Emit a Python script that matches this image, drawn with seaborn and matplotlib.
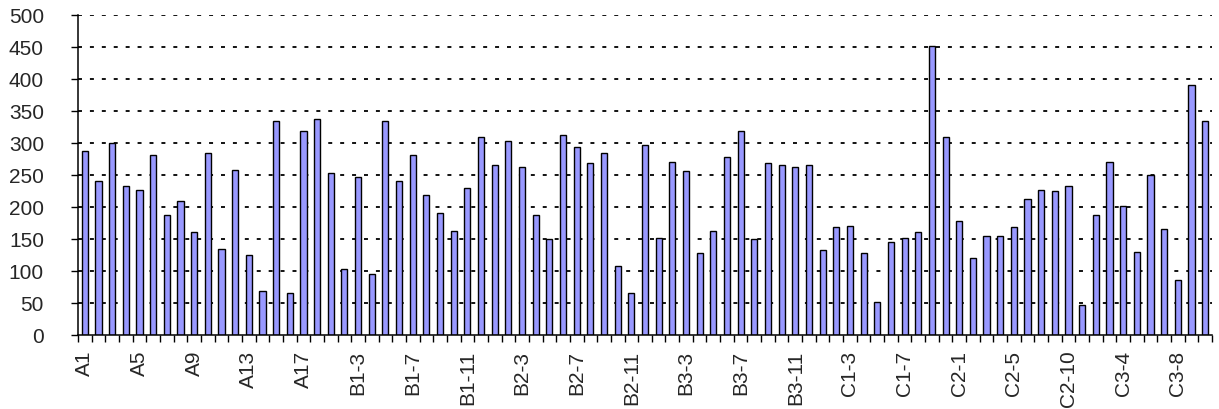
import matplotlib
matplotlib.use("Agg")
import matplotlib.pyplot as plt
import seaborn as sns
import numpy as np

# ---- data ----
groups_a = [f"A{i}" for i in range(1, 19)]
groups_b1 = [f"B1-{i}" for i in range(1, 13)]
groups_b2 = [f"B2-{i}" for i in range(1, 13)]
groups_b3 = [f"B3-{i}" for i in range(1, 13)]
groups_c1 = [f"C1-{i}" for i in range(1, 11)]
groups_c2 = ["C2-1", "C2-2", "C2-3", "C2-4", "C2-5", "C2-7", "C2-8", "C2-9", "C2-10"]
groups_c3 = [f"C3-{i}" for i in range(1, 11)]
categories = groups_a + groups_b1 + groups_b2 + groups_b3 + groups_c1 + groups_c2 + groups_c3

values_a = [288, 241, 300, 233, 227, 281, 188, 209, 161, 284, 134, 258, 125, 68, 334, 66, 318, 338]
values_b1 = [253, 103, 247, 96, 334, 241, 281, 218, 191, 162, 230, 310]
values_b2 = [266, 303, 263, 188, 150, 313, 294, 269, 284, 108, 66, 297]
values_b3 = [152, 271, 256, 128, 162, 278, 318, 150, 269, 266, 263, 266]
values_c1 = [133, 168, 171, 128, 52, 146, 152, 161, 452, 309]
values_c2 = [178, 121, 155, 155, 168, 213, 227, 225, 233]
values_c3 = [47, 188, 271, 202, 130, 250, 166, 86, 391, 334]
values = values_a + values_b1 + values_b2 + values_b3 + values_c1 + values_c2 + values_c3

label_step = 4
y_ticks = list(range(0, 501, 50))

# ---- plot ----
sns.set_style("white")
plt.rcParams["font.family"] = ["Liberation Sans", "DejaVu Sans"]

fig = plt.figure(figsize=(12.19, 4.10), dpi=100)
ax = fig.add_axes([78 / 1219, 1 - 336 / 410, (1212 - 78) / 1219, (336 - 16) / 410])

sns.barplot(x=categories, y=values, order=categories, color="#9999FF", saturation=1,
            edgecolor="black", linewidth=1.0, width=0.45, ax=ax)

ax.set_ylim(0, 500)
ax.set_xlim(-0.5, len(categories) - 0.5)
ax.set_yticks(y_ticks)
ax.set_yticklabels([str(v) for v in y_ticks], fontsize=15)
ax.tick_params(axis="y", left=True, direction="out", length=5, width=1.0, pad=19.5, color="black")

pos = np.arange(len(categories))
ax.set_xticks(pos[::label_step])
ax.set_xticklabels(categories[::label_step], rotation=90, fontsize=15)
ax.tick_params(axis="x", which="major", bottom=True, length=0, pad=10.5)
ax.set_xticks(np.arange(-0.5, len(categories), 1.0), minor=True)
ax.tick_params(axis="x", which="minor", bottom=True, direction="out", length=5, width=1.0, color="black")

ax.grid(False)
for v in y_ticks[1:]:
    ax.axhline(v, color="black", lw=1.3, dashes=(2.2, 4.4), zorder=0.5)
ax.set_axisbelow(True)

for s in ["top", "right"]:
    ax.spines[s].set_visible(False)
for s in ["left", "bottom"]:
    ax.spines[s].set_color("black")
    ax.spines[s].set_linewidth(1.1)
ax.set_xlabel("")
ax.set_ylabel("")

fig.savefig("out.png", dpi=100)
